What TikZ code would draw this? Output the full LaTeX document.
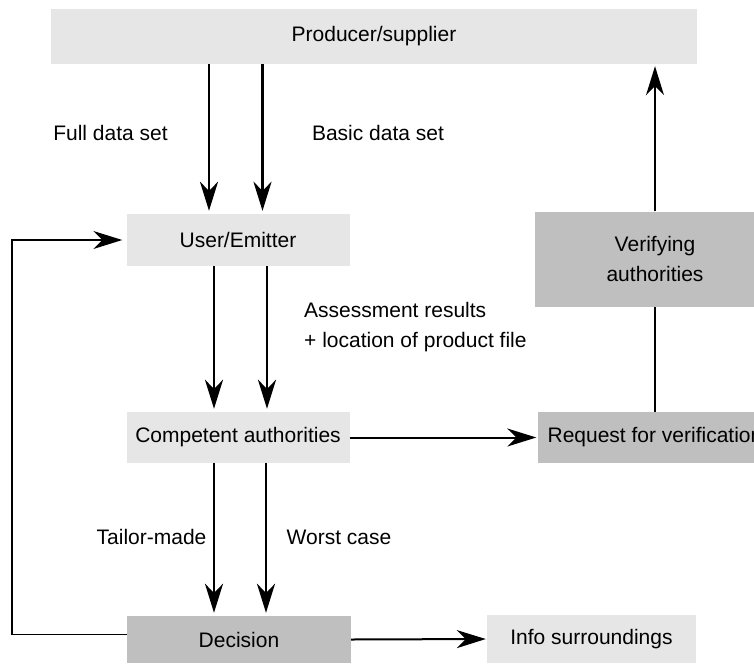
\documentclass[tikz,border=0pt]{standalone}
\usepackage{fontspec}
\setmainfont{Liberation Sans}
\usetikzlibrary{arrows.meta,calc}
\definecolor{lightbox}{HTML}{E6E6E6}
\definecolor{darkbox}{HTML}{BFBFBF}
\begin{document}
\begin{tikzpicture}[x=1pt,y=-1pt,
  every node/.style={font=\fontsize{21}{30}\selectfont, inner sep=0pt},
  lbox/.style={fill=lightbox, draw=none, rectangle},
  dbox/.style={fill=darkbox, draw=none, rectangle},
  lbl/.style={},
  bighead/.style={-{Stealth[length=29pt,width=18pt,inset=9pt]}},
  thickarr/.style={line width=2.6pt, bighead, shorten >=3pt},
  thinarr/.style={line width=2pt, bighead, shorten >=1pt},
  plain/.style={line width=1.5pt}
]
\useasboundingbox (0,0) rectangle (754,664);
\begin{scope}
\clip (0,0) rectangle (754,664);
\node[lbox, minimum width=646pt, minimum height=55pt] (prod) at (374,36.5) {Producer/supplier};
\node[lbox, minimum width=223pt, minimum height=52pt] (user) at (238,240) {User/Emitter};
\node[lbox, minimum width=223pt, minimum height=51pt] (comp) at (238,437.5) {Competent authorities};
\node[dbox, minimum width=224pt, minimum height=47pt] (dec) at (239,639.5) {Decision};
\node[lbox, minimum width=209pt, minimum height=48pt] (info) at (591.5,639) {Info surroundings};
\node[dbox, minimum width=235pt, minimum height=51pt] (req) at (655,437.5) {Request for verification};
\node[dbox, minimum width=240pt, minimum height=95pt, align=center] (ver) at (655,259) {Verifying\\authorities};

\node[lbl] (l1) at (110.5,133) {Full data set};
\node[lbl] (l2) at (378,133) {Basic data set};
\node[lbl, anchor=west, align=left] (l3) at (304,327) {Assessment results\\+ location of product file};
\node[lbl] (l4) at (151.5,537) {Tailor-made};
\node[lbl] (l5) at (339,537) {Worst case};

\coordinate (a1) at (209,0);
\coordinate (a2) at (262.5,0);
\coordinate (b1) at (214,0);
\coordinate (b2) at (267,0);
\coordinate (c1) at (214,0);
\coordinate (c2) at (266,0);
\coordinate (lx) at (12,0);
\coordinate (vx) at (655,0);

\draw[thickarr] (a1 |- prod.south) -- (a1 |- user.north);
\draw[thickarr] (a2 |- prod.south) -- (a2 |- user.north);
\draw[thickarr] (b1 |- user.south) -- (b1 |- comp.north);
\draw[thickarr] (b2 |- user.south) -- (b2 |- comp.north);
\draw[thickarr] (c1 |- comp.south) -- (c1 |- dec.north);
\draw[thickarr] (c2 |- comp.south) -- (c2 |- dec.north);

\draw[thinarr] (comp.east) -- (req.west);
\draw[thinarr] (dec.east) -- (info.west);
\draw[plain] (req.north) -- (ver.south);
\draw[plain, bighead, shorten >=2pt] (ver.north) -- (vx |- prod.south);
\draw[line width=1.4pt, bighead, shorten >=4pt]
  ([yshift=5pt]dec.west) -- ([yshift=5pt]lx |- dec.west) -- (lx |- user.west) -- (user.west);
\end{scope}
\end{tikzpicture}
\end{document}
